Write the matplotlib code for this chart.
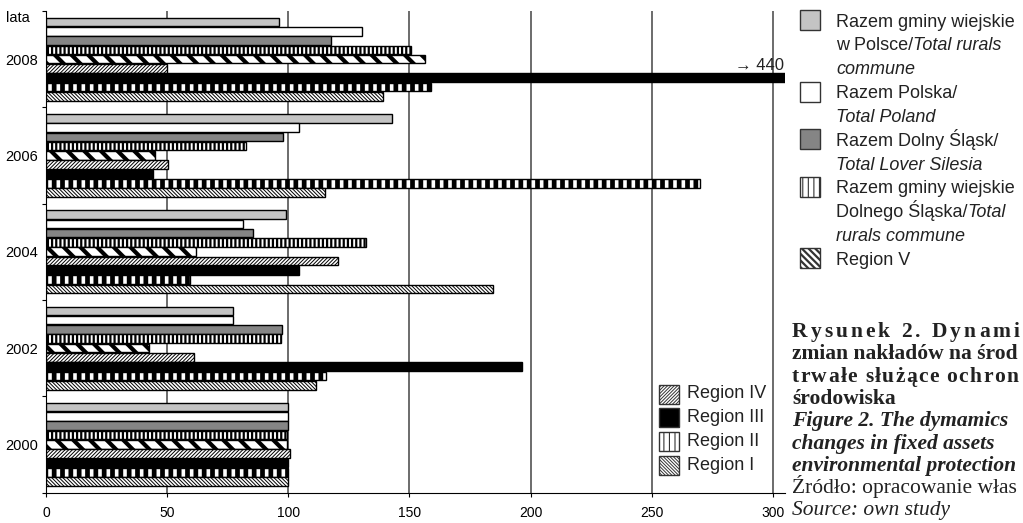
import numpy as np
import matplotlib
matplotlib.use('Agg')
import matplotlib.pyplot as plt
from matplotlib.patches import Rectangle

# Dane: dynamika nakladow (rok 2000 = 100)
years = ['2000', '2002', '2004', '2006', '2008']

gminy_polska = [100, 77, 99, 143, 96]
polska = [100, 77, 81.5, 104.5, 130.5]
dolny_slask = [100, 97.5, 85.5, 98, 117.5]
gminy_ds = [99.5, 97, 132, 82.5, 150.5]
region_v = [99.5, 42.5, 62, 45, 156.5]
region_iv = [100.5, 61, 120.5, 50.5, 50]
region_iii = [100, 196.5, 104.5, 44, 440]
region_ii = [100, 115.5, 59.5, 270, 159]
region_i = [100, 111.5, 184.5, 115, 139]

W, H = 1023, 523
SANS = ['Liberation Sans', 'DejaVu Sans']
SERIF = ['Liberation Serif', 'DejaVu Serif']


def fx(x):
    return x / W


def fy(y):
    return 1 - y / H


# styl serii, od gory do dolu w grupie: (dane, styl, grubosc kreskowania)
series = [
    (gminy_polska, dict(facecolor='#c4c4c4'), None),
    (polska, dict(facecolor='white'), None),
    (dolny_slask, dict(facecolor='#858585'), None),
    (gminy_ds, dict(facecolor='white', hatch='||||'), 1.6),
    (region_v, dict(facecolor='white', hatch='\\\\'), 3.0),
    (region_iv, dict(facecolor='white', hatch='/' * 9), 0.7),
    (region_iii, dict(facecolor='black'), None),
    (region_ii, dict(facecolor='white', hatch='||'), 3.4),
    (region_i, dict(facecolor='white', hatch='\\' * 9), 0.7),
]


def set_hlw(artist, hlw):
    if hlw is not None and hasattr(artist, 'set_hatch_linewidth'):
        artist.set_hatch_linewidth(hlw)


fig = plt.figure(figsize=(W / 100, H / 100), dpi=100)
ax = fig.add_axes([fx(46), fy(492.5), (785 - 46) / W, (492.5 - 11) / H])

pitch = 0.0966
bar_h = pitch * 0.93
centers = np.arange(len(years))
for k, (vals, style, hlw) in enumerate(series):
    ypos = centers + (4 - k) * pitch
    if hlw is not None:
        plt.rcParams['hatch.linewidth'] = hlw
    bars = ax.barh(ypos, vals, height=bar_h, edgecolor='black', linewidth=1.0,
                   zorder=3, **style)
    for b in bars:
        set_hlw(b, hlw)

ax.set_xlim(0, 305)
ax.set_ylim(-0.5, 4.5)
ax.set_xticks(np.arange(0, 301, 50))
ax.tick_params(axis='x', length=3, pad=7, labelsize=10)
for lbl in ax.get_xticklabels():
    lbl.set_family(SANS)
ax.xaxis.grid(True, color='#444444', linewidth=1.1)
ax.set_axisbelow(True)

ax.set_yticks(np.arange(-0.5, 4.6, 1.0))
ax.set_yticklabels([])
ax.tick_params(axis='y', length=3)
ax.set_yticks(centers, minor=True)
ax.set_yticklabels(years, minor=True, fontsize=10.5, family=SANS)
ax.tick_params(axis='y', which='minor', length=0, pad=6)

for s in ['top', 'right']:
    ax.spines[s].set_visible(False)

# podpis dla uciętego słupka
ax.text(304.5, 4 - 2 * pitch + bar_h / 2, '\u2192 440', ha='right', va='bottom',
        fontsize=12, family=SANS, color='#222222')

fig.text(fx(6), fy(18), 'lata', va='center', ha='left', fontsize=10.5, family=SANS)

# legenda wewnatrz (regiony I-IV)
inner = [('Region IV', 5, '/' * 10, 0.7), ('Region III', 6, None, None),
         ('Region II', 7, '|||', 0.8), ('Region I', 8, '\\' * 10, 0.7)]
for i, (name, k, hatch, hlw) in enumerate(inner):
    cy = 394 + 23.7 * i
    st = dict(series[k][1])
    if hatch:
        st['hatch'] = hatch
    if hlw is not None:
        plt.rcParams['hatch.linewidth'] = hlw
    r = Rectangle((fx(659), fy(cy + 9.5)), 20 / W, 19 / H, transform=fig.transFigure,
                  edgecolor='#333333', linewidth=1.0, **st)
    set_hlw(r, hlw)
    fig.add_artist(r)
    fig.text(fx(687), fy(cy), name, va='center', ha='left', fontsize=13, family=SANS,
             color='#222222')

# legenda zewnetrzna
leg_lines = [
    [('Razem gminy wiejskie', 'normal')],
    [('w Polsce/', 'normal'), ('Total rurals', 'italic')],
    [('commune', 'italic')],
    [('Razem Polska/', 'normal')],
    [('Total Poland', 'italic')],
    [('Razem Dolny \u015al\u0105sk/', 'normal')],
    [('Total Lover Silesia', 'italic')],
    [('Razem gminy wiejskie', 'normal')],
    [('Dolnego \u015al\u0105ska/', 'normal'), ('Total', 'italic')],
    [('rurals commune', 'italic')],
    [('Region V', 'normal')],
]
leg_patches = [(0, 0, None, None), (3, 1, None, None), (5, 2, None, None),
               (7, 3, '|||', 0.8), (10, 4, '\\' * 5, 1.6)]

renderer = fig.canvas.get_renderer()
for i, parts in enumerate(leg_lines):
    base = 26.7 + 23.8 * i
    x = 836
    for txt, style in parts:
        t = fig.text(fx(x), fy(base), txt, va='baseline', ha='left', fontsize=13,
                     family=SANS, style=style, color='#222222')
        x = t.get_window_extent(renderer).x1

for line_i, k, hatch, hlw in leg_patches:
    cy = 26.7 + 23.8 * line_i - 6.5
    st = dict(series[k][1])
    if hatch:
        st['hatch'] = hatch
    if hlw is not None:
        plt.rcParams['hatch.linewidth'] = hlw
    r = Rectangle((fx(800), fy(cy + 10)), 20 / W, 20 / H, transform=fig.transFigure,
                  edgecolor='#333333', linewidth=1.0, **st)
    set_hlw(r, hlw)
    fig.add_artist(r)


def tracked(x, y, s, track, **kw):
    # litery jedna po drugiej, z dodatkowym odstepem
    for ch in s:
        t = fig.text(fx(x), fy(y), ch, va='baseline', ha='left', **kw)
        w = t.get_window_extent(renderer).width
        if ch == ' ':
            w = kw.get('fontsize', 15) * 100 / 72 * 0.25
        x += w + track


# podpis rysunku - widoczna czesc (w oryginale uciety prawa krawedzia)
cap = dict(fontsize=15.5, family=SERIF, color='#222222')
cb = 337
cp = 22.3
tracked(792, cb, 'Rysunek 2. Dynami', 3.0, weight='bold', **cap)
fig.text(fx(792), fy(cb + cp), 'zmian nak\u0142ad\u00f3w na \u015brod', va='baseline',
         weight='bold', **cap)
tracked(792, cb + 2 * cp, 'trwa\u0142e s\u0142u\u017c\u0105ce ochron', 1.3, weight='bold', **cap)
fig.text(fx(792), fy(cb + 3 * cp), '\u015brodowiska', va='baseline', weight='bold', **cap)
fig.text(fx(792), fy(cb + 4 * cp), 'Figure 2. The dymamics', va='baseline',
         weight='bold', style='italic', **cap)
fig.text(fx(792), fy(cb + 5 * cp), 'changes in fixed assets', va='baseline',
         weight='bold', style='italic', **cap)
fig.text(fx(792), fy(cb + 6 * cp), 'environmental protection', va='baseline',
         weight='bold', style='italic', **cap)
fig.text(fx(792), fy(cb + 7 * cp), '\u0179r\u00f3d\u0142o: opracowanie w\u0142as',
         va='baseline', **cap)
fig.text(fx(792), fy(cb + 8 * cp), 'Source: own study', va='baseline', style='italic', **cap)

fig.savefig('out.png', dpi=100)
